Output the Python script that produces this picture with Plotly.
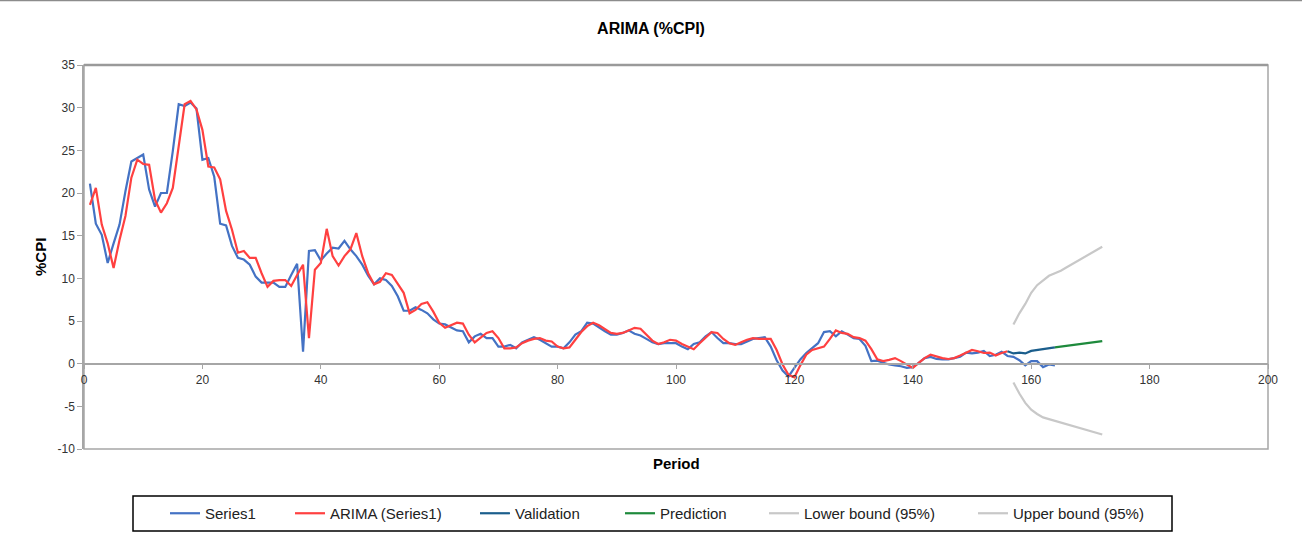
import plotly.graph_objects as go

# ---- data ----
period_series = list(range(1, 165))
series1 = [
    21.1, 16.4, 15.1, 11.8, 14.1, 16.3, 20.2, 23.7, 24.1, 24.5,
    20.4, 18.4, 20.0, 20.0, 24.9, 30.4, 30.2, 30.6, 29.9, 23.9,
    24.1, 21.9, 16.4, 16.2, 13.8, 12.4, 12.2, 11.6, 10.2, 9.5,
    9.5, 9.5, 9.0, 9.0, 10.4, 11.7, 1.4, 13.2, 13.3, 12.1,
    12.9, 13.6, 13.5, 14.4, 13.4, 12.6, 11.6, 10.3, 9.3, 10.0,
    9.8, 9.1, 7.9, 6.2, 6.2, 6.6, 6.3, 5.9, 5.2, 4.7,
    4.6, 4.2, 3.9, 3.8, 2.5, 3.2, 3.5, 3.0, 3.0, 2.0,
    2.0, 2.2, 1.8, 2.5, 2.8, 3.1, 2.8, 2.4, 2.0, 2.0,
    1.8, 2.5, 3.4, 3.8, 4.8, 4.7, 4.2, 3.8, 3.4, 3.4,
    3.6, 3.9, 3.5, 3.3, 2.9, 2.5, 2.3, 2.4, 2.4, 2.4,
    2.0, 1.7, 2.3, 2.5, 3.2, 3.7, 3.0, 2.4, 2.4, 2.3,
    2.3, 2.6, 2.9, 3.0, 3.1, 2.0, 0.4, -0.8, -1.5, -0.5,
    0.5, 1.25, 1.8, 2.4, 3.7, 3.8, 3.2, 3.8, 3.4, 3.0,
    2.9, 2.1, 0.3, 0.35, 0.1, -0.1, -0.2, -0.3, -0.5, -0.4,
    0.1, 0.65, 0.8, 0.55, 0.5, 0.5, 0.65, 0.8, 1.3, 1.2,
    1.3, 1.5, 0.9, 1.05, 1.4, 0.9, 0.8, 0.4, -0.2, 0.3,
    0.3, -0.4, -0.1, -0.2,
]

period_arima = list(range(1, 157))
arima = [
    18.6, 20.6, 16.3, 14.1, 11.2, 14.5, 17.3, 21.8, 23.9, 23.4,
    23.3, 19.2, 17.7, 18.8, 20.6, 25.4, 30.4, 30.8, 29.8, 27.4,
    23.1, 23.0, 21.6, 17.9, 15.7, 13.0, 13.2, 12.4, 12.4, 10.6,
    9.0, 9.7, 9.8, 9.8, 9.1, 10.4, 11.6, 3.0, 11.0, 11.8,
    15.8, 12.6, 11.5, 12.6, 13.4, 15.3, 12.6, 10.6, 9.3, 9.6,
    10.6, 10.4, 9.3, 8.3, 5.9, 6.3, 7.0, 7.2, 6.1, 4.8,
    4.2, 4.5, 4.8, 4.7, 3.4, 2.5, 3.1, 3.6, 3.8, 3.0,
    1.8, 1.8, 1.9, 2.4, 2.7, 2.9, 3.0, 2.7, 2.6, 2.0,
    1.8, 1.9, 2.8, 3.7, 4.4, 4.8, 4.5, 4.0, 3.6, 3.5,
    3.6, 3.9, 4.2, 4.1, 3.4, 2.7, 2.3, 2.5, 2.8, 2.7,
    2.3, 2.0, 1.7, 2.4, 3.0, 3.7, 3.6, 2.9, 2.4, 2.2,
    2.5, 2.8, 3.0, 2.9, 2.9, 2.9, 1.6, -0.1, -1.3, -1.6,
    -0.2, 1.05, 1.6, 1.8, 2.0, 2.9, 3.9, 3.6, 3.5, 3.1,
    3.0, 2.7, 1.7, 0.5, 0.3, 0.45, 0.65, 0.3, -0.1, -0.5,
    0.1, 0.65, 1.05, 0.85, 0.65, 0.55, 0.65, 0.95, 1.25, 1.6,
    1.45, 1.25, 1.3, 0.95, 1.25, 1.45,
]

period_validation = list(range(156, 165))
validation = [1.45, 1.2, 1.3, 1.2, 1.5, 1.6, 1.75, 1.85, 1.9]

period_prediction = list(range(164, 173))
prediction = [1.9, 2.0, 2.1, 2.2, 2.3, 2.4, 2.45, 2.55, 2.65]

period_bounds = list(range(157, 173))
lower_bound = [-2.2, -3.5, -4.6, -5.4, -5.9, -6.3, -6.5, -6.7,
               -6.85, -7.05, -7.3, -7.5, -7.7, -7.9, -8.1, -8.3]
upper_bound = [4.6, 5.9, 7.0, 8.3, 9.2, 9.8, 10.3, 10.6,
               10.9, 11.3, 11.7, 12.1, 12.5, 12.9, 13.3, 13.7]

x_ticks = [0, 20, 40, 60, 80, 100, 120, 140, 160, 180, 200]
y_ticks = [-10, -5, 0, 5, 10, 15, 20, 25, 30, 35]
y_tick_labels = ["-10", "-5", "0", "5", "10", "15", "20", "25", "30", "35"]

# ---- styling ----
W, H = 1302, 543
ML, MR, MT, MB = 84, 34, 65, 94
PW, PH = W - ML - MR, H - MT - MB
Y_MIN, Y_MAX = -10, 35

TICK_FONT = dict(family="Liberation Sans, Arial, sans-serif", size=12, color="#333333")
NARROW = "Liberation Sans Narrow, Arial Narrow, Liberation Sans, sans-serif"
AXIS_GRAY = "#A6A6A6"


def px_x(px):
    return (px - ML) / PW


def px_y(py):
    return (MT + PH - py) / PH


traces = [
    ("Series1", period_series, series1, "#4472C4"),
    ("ARIMA (Series1)", period_arima, arima, "#FF4040"),
    ("Validation", period_validation, validation, "#1B5E8C"),
    ("Prediction", period_prediction, prediction, "#1E8A3C"),
    ("Lower bound (95%)", period_bounds, lower_bound, "#C8C8C8"),
    ("Upper bound (95%)", period_bounds, upper_bound, "#C8C8C8"),
]

# left edge (px) of each legend entry's text
legend_text_px = [207, 332, 517, 662, 806, 1015]

fig = go.Figure()
legend_layouts = {}
for i, (name, xs, ys, color) in enumerate(traces):
    key = "legend" if i == 0 else f"legend{i + 1}"
    fig.add_trace(go.Scatter(
        x=xs, y=ys, mode="lines", name=name,
        line=dict(color=color, width=2.2),
        legend=key,
    ))
    legend_layouts[key] = dict(
        x=px_x(legend_text_px[i] - 42), xanchor="left",
        y=px_y(513.5), yanchor="middle",
        bgcolor="rgba(0,0,0,0)", borderwidth=0,
        font=dict(family=NARROW, size=15, color="#222222"),
        orientation="h",
    )

zero_pos = (0 - Y_MIN) / (Y_MAX - Y_MIN)

fig.update_layout(
    width=W, height=H,
    margin=dict(l=ML, r=MR, t=MT, b=MB, pad=0),
    paper_bgcolor="white", plot_bgcolor="white",
    showlegend=True,
    title=dict(
        text="<b>ARIMA (%CPI)</b>", x=0.5, xref="container", xanchor="center",
        y=1 - 28 / H, yref="container", yanchor="middle",
        font=dict(family=NARROW, size=16, color="#000000"),
    ),
    xaxis=dict(
        range=[0, 200], tickmode="array", tickvals=x_ticks,
        anchor="free", position=zero_pos,
        showline=True, linecolor=AXIS_GRAY, linewidth=1.5,
        ticks="outside", ticklen=5, tickcolor=AXIS_GRAY, tickwidth=1.2,
        showgrid=False, zeroline=False,
        tickfont=TICK_FONT,
    ),
    xaxis2=dict(
        matches="x", overlaying="x", anchor="free", position=zero_pos,
        showline=False, ticks="inside", ticklen=5, tickcolor=AXIS_GRAY,
        tickwidth=1.2, showticklabels=False, showgrid=False, zeroline=False,
        tickmode="array", tickvals=x_ticks,
    ),
    yaxis=dict(
        range=[Y_MIN, Y_MAX], tickmode="array",
        tickvals=y_ticks, ticktext=y_tick_labels,
        showline=True, linecolor=AXIS_GRAY, linewidth=1.5,
        ticks="outside", ticklen=5, tickcolor=AXIS_GRAY, tickwidth=1.2,
        showgrid=False, zeroline=False,
        tickfont=TICK_FONT,
    ),
    **legend_layouts,
)

# plot-area frame, figure top rule, legend box
fig.add_shape(type="rect", xref="paper", yref="paper", x0=0, x1=1, y0=0, y1=1,
              line=dict(color=AXIS_GRAY, width=1.5), layer="below")
fig.add_shape(type="line", xref="paper", yref="paper", x0=0, x1=1, y0=1, y1=1,
              line=dict(color="#9A9A9A", width=2.5))
fig.add_shape(type="line", xref="paper", yref="paper",
              x0=px_x(0), x1=px_x(W), y0=px_y(0.5), y1=px_y(0.5),
              line=dict(color="#8C8C8C", width=1.5))
fig.add_shape(type="rect", xref="paper", yref="paper",
              x0=px_x(133), x1=px_x(1172), y0=px_y(531), y1=px_y(496),
              line=dict(color="#000000", width=1.5))

fig.add_annotation(text="<b>Period</b>", xref="paper", yref="paper",
                   x=px_x(676), y=px_y(463), showarrow=False,
                   xanchor="center", yanchor="middle",
                   font=dict(family="Liberation Sans, Arial, sans-serif", size=15, color="#000000"))
fig.add_annotation(text="<b>%CPI</b>", xref="paper", yref="paper",
                   x=px_x(40), y=px_y(257), showarrow=False, textangle=-90,
                   xanchor="center", yanchor="middle",
                   font=dict(family="Liberation Sans, Arial, sans-serif", size=15, color="#000000"))

fig.write_html("out.html")
